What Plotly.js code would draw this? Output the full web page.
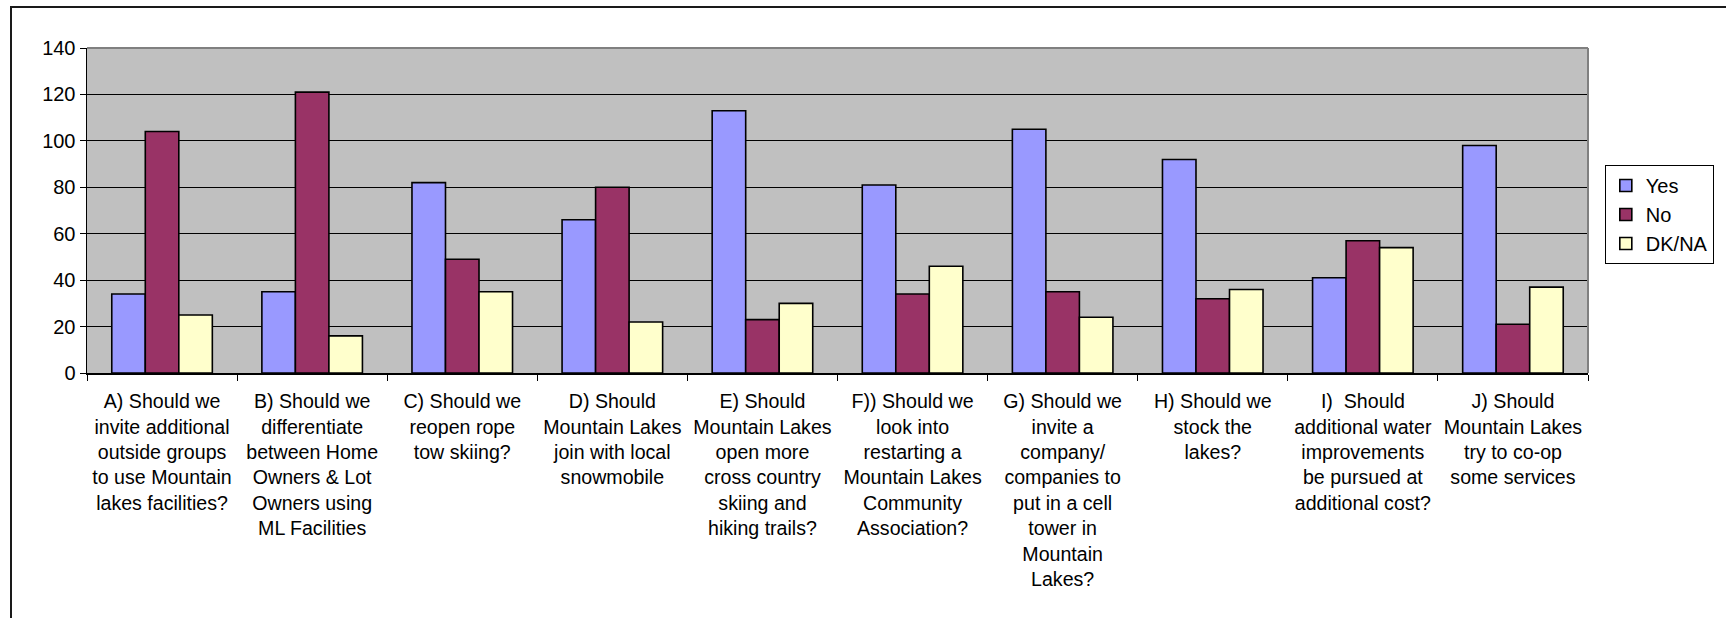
<!DOCTYPE html>
<html>
<head>
<meta charset="utf-8">
<script src="https://cdn.plot.ly/plotly-3.0.1.min.js"></script>
<style>
  html, body { margin: 0; padding: 0; background: #ffffff; }
  #wrap { position: relative; width: 1726px; height: 618px; overflow: hidden; }
  #chart { position: absolute; left: 0; top: 0; width: 1726px; height: 618px; }
  #frame { position: absolute; left: 10px; top: 6px; width: 1800px; height: 700px;
           border-left: 2px solid #1a1a1a; border-top: 2px solid #1a1a1a; pointer-events: none; }
</style>
</head>
<body>
<div id="wrap">
  <div id="chart"></div>
  <div id="frame"></div>
</div>
<script>
const categories = [
  "A) Should we<br>invite additional<br>outside groups<br>to use Mountain<br>lakes facilities?",
  "B) Should we<br>differentiate<br>between Home<br>Owners & Lot<br>Owners using<br>ML Facilities",
  "C) Should we<br>reopen rope<br>tow skiing?",
  "D) Should<br>Mountain Lakes<br>join with local<br>snowmobile",
  "E) Should<br>Mountain Lakes<br>open more<br>cross country<br>skiing and<br>hiking trails?",
  "F)) Should we<br>look into<br>restarting a<br>Mountain Lakes<br>Community<br>Association?",
  "G) Should we<br>invite a<br>company/<br>companies to<br>put in a cell<br>tower in<br>Mountain<br>Lakes?",
  "H) Should we<br>stock the<br>lakes?",
  "I)\u00a0 Should<br>additional water<br>improvements<br>be pursued at<br>additional cost?",
  "J) Should<br>Mountain Lakes<br>try to co-op<br>some services"
];
const yesValues  = [34, 35, 82, 66, 113, 81, 105, 92, 41, 98];
const noValues   = [104, 121, 49, 80, 23, 34, 35, 32, 57, 21];
const dknaValues = [25, 16, 35, 22, 30, 46, 24, 36, 54, 37];
const seriesNames = ["Yes", "No", "DK/NA"];
const yTickValues = [0, 20, 40, 60, 80, 100, 120, 140];

const FONT = '"Liberation Sans", Arial, sans-serif';
const FS = 20;
const colors = ["#9999FF", "#993366", "#FFFFCC"];
const seriesValues = [yesValues, noValues, dknaValues];

const data = seriesNames.map((name, i) => ({
  type: "bar",
  name: name,
  x: categories,
  y: seriesValues[i],
  marker: { color: colors[i], line: { color: "#000000", width: 1.6 } },
  hoverinfo: "x+y+name"
}));

const layout = {
  width: 1726,
  height: 618,
  margin: { l: 87, r: 116, t: 48, b: 245, pad: 0 },
  paper_bgcolor: "#ffffff",
  plot_bgcolor: "#C0C0C0",
  font: { family: FONT, size: FS, color: "#000000" },
  barmode: "group",
  bargap: 0.33,
  bargroupgap: 0,
  showlegend: true,
  legend: {
    x: 1.0112, y: 0.64, xanchor: "left", yanchor: "top",
    bgcolor: "#ffffff", bordercolor: "#000000", borderwidth: 1,
    font: { family: FONT, size: FS, color: "#000000" },
    itemwidth: 30, traceorder: "normal"
  },
  xaxis: {
    type: "category",
    automargin: false,
    showline: true, linecolor: "#000000", linewidth: 1.5,
    ticks: "outside", tickson: "boundaries", ticklen: 6, tickcolor: "#000000", tickwidth: 1,
    ticklabelstandoff: 10,
    showgrid: false, zeroline: false,
    tickangle: 0,
    tickfont: { family: FONT, size: 19.6, color: "#000000" }
  },
  yaxis: {
    range: [0, 140],
    automargin: false,
    tickmode: "array", tickvals: yTickValues, ticktext: yTickValues.map(String),
    showline: true, linecolor: "#000000", linewidth: 1.5,
    ticks: "outside", ticklen: 6, tickcolor: "#000000", tickwidth: 1,
    showgrid: true, gridcolor: "#000000", gridwidth: 1,
    zeroline: false,
    tickfont: { family: FONT, size: FS, color: "#000000" }
  },
  shapes: [
    { type: "line", xref: "paper", yref: "paper", x0: 0, x1: 1, y0: 1, y1: 1,
      line: { color: "#808080", width: 2 }, layer: "above" },
    { type: "line", xref: "paper", yref: "paper", x0: 1, x1: 1, y0: 0, y1: 1,
      line: { color: "#808080", width: 2 }, layer: "above" }
  ]
};

Plotly.newPlot("chart", data, layout, { displayModeBar: false, staticPlot: true });
</script>
</body>
</html>
